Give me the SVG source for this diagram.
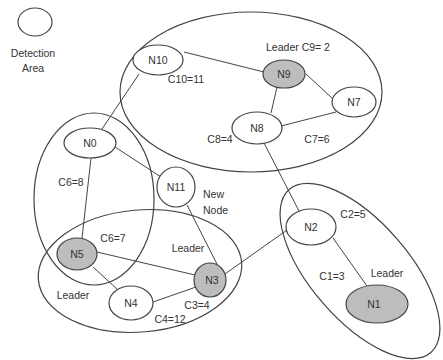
<svg xmlns="http://www.w3.org/2000/svg" width="443" height="360" viewBox="0 0 443 360">
<style>
.a{fill:none;stroke:#444;stroke-width:1.2}
.n{fill:#fff;stroke:#444;stroke-width:1.2}
.l{fill:#bdbdbd;stroke:#444;stroke-width:1.2}
.e{stroke:#444;stroke-width:1}
text{font-family:"Liberation Sans",Arial,sans-serif;font-size:10.5px;fill:#333}
.c{text-anchor:middle}
</style>
<rect width="443" height="360" fill="#fff"/>
<g id="areas">
<ellipse class="a" cx="251" cy="92" rx="131" ry="80"/>
<ellipse class="a" cx="94" cy="199" rx="60" ry="86"/>
<ellipse class="a" cx="140" cy="271" rx="102" ry="61" transform="rotate(-5 140 271)"/>
<ellipse class="a" cx="360" cy="271" rx="108" ry="49" transform="rotate(49 360 271)"/>
</g>
<g id="legend">
<ellipse class="a" cx="35" cy="22" rx="17" ry="14"/>
<text class="c" x="33" y="57">Detection</text>
<text class="c" x="33" y="72">Area</text>
</g>
<g id="connectors">
<line class="e" x1="184" y1="52" x2="264" y2="72"/>
<line class="e" x1="306" y1="74" x2="333" y2="99"/>
<line class="e" x1="277" y1="87" x2="271" y2="113"/>
<line class="e" x1="281" y1="126" x2="336" y2="112"/>
<line class="e" x1="139" y1="74" x2="102" y2="129"/>
<line class="e" x1="115" y1="147" x2="161" y2="177"/>
<line class="e" x1="91" y1="158" x2="82" y2="238"/>
<line class="e" x1="97" y1="252" x2="195" y2="275"/>
<line class="e" x1="93" y1="267" x2="118" y2="290"/>
<line class="e" x1="153" y1="302" x2="196" y2="287"/>
<line class="e" x1="187" y1="205" x2="220" y2="270"/>
<line class="e" x1="225" y1="274" x2="287" y2="230"/>
<line class="e" x1="264" y1="143" x2="299" y2="211"/>
<line class="e" x1="333" y1="238" x2="367" y2="286"/>
</g>
<g id="N10"><ellipse class="n" cx="158" cy="60" rx="25" ry="15"/><text class="c" x="158" y="64">N10</text></g>
<g id="N9"><ellipse class="l" cx="284" cy="74" rx="21" ry="14"/><text class="c" x="284" y="78">N9</text></g>
<g id="N7"><ellipse class="n" cx="354" cy="102" rx="22" ry="15"/><text class="c" x="354" y="106">N7</text></g>
<g id="N8"><ellipse class="n" cx="257" cy="128" rx="25" ry="16"/><text class="c" x="257" y="132">N8</text></g>
<g id="N0"><ellipse class="n" cx="90" cy="143" rx="26" ry="15"/><text class="c" x="90" y="147">N0</text></g>
<g id="N11"><ellipse class="n" cx="176" cy="187" rx="19" ry="20"/><text class="c" x="176" y="191">N11</text></g>
<g id="N5"><ellipse class="l" cx="77" cy="254" rx="20" ry="16"/><text class="c" x="77" y="258">N5</text></g>
<g id="N4"><ellipse class="n" cx="131" cy="303" rx="22" ry="17"/><text class="c" x="131" y="307">N4</text></g>
<g id="N3"><ellipse class="l" cx="210" cy="280" rx="16" ry="17"/><text class="c" x="212" y="284">N3</text></g>
<g id="N2"><ellipse class="n" cx="311" cy="227" rx="25" ry="18"/><text class="c" x="311" y="231">N2</text></g>
<g id="N1"><ellipse class="l" cx="377" cy="304" rx="31" ry="19"/><text class="c" x="374" y="308">N1</text></g>
<g id="labels">
<text class="c" x="298" y="51">Leader C9= 2</text>
<text class="c" x="186" y="83">C10=11</text>
<text class="c" x="220" y="143">C8=4</text>
<text class="c" x="317" y="143">C7=6</text>
<text class="c" x="71" y="186">C6=8</text>
<text x="203" y="198">New</text>
<text x="203" y="214">Node</text>
<text class="c" x="113" y="242">C6=7</text>
<text class="c" x="188" y="252">Leader</text>
<text class="c" x="73" y="299">Leader</text>
<text class="c" x="197" y="309">C3=4</text>
<text class="c" x="170" y="323">C4=12</text>
<text class="c" x="353" y="218">C2=5</text>
<text class="c" x="332" y="280">C1=3</text>
<text class="c" x="387" y="277">Leader</text>
</g>
</svg>
